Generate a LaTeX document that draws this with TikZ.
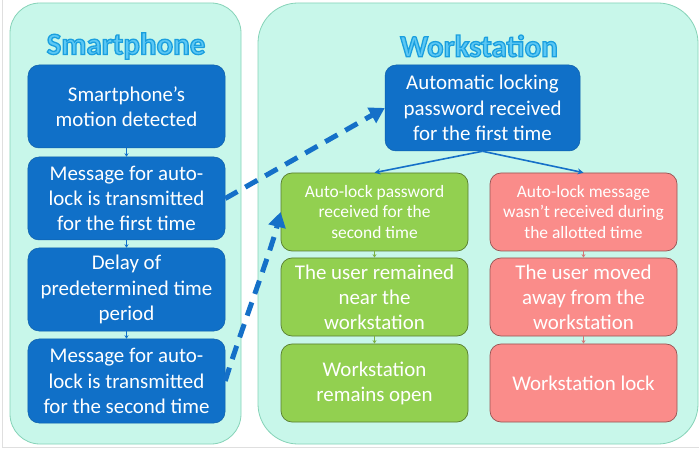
\documentclass[tikz,border=0pt]{standalone}
\usepackage{fontspec}
\setmainfont{Carlito}
\usetikzlibrary{arrows.meta}
\definecolor{panelfill}{HTML}{C8F7EA}
\definecolor{paneldraw}{HTML}{86D3B8}
\definecolor{boxblue}{HTML}{1070C8}
\definecolor{boxgreen}{HTML}{92D050}
\definecolor{boxred}{HTML}{FA8C8A}
\definecolor{titlefill}{HTML}{5CC8F4}
\definecolor{arrowblue}{HTML}{1570C8}
\tikzset{
  panel/.style={draw=paneldraw, fill=panelfill, line width=0.8bp},
  bluebox/.style={draw=boxblue!85!black, fill=boxblue, rounded corners=11bp, line width=0.5bp,
    minimum width=197bp, inner sep=0pt, text=white, align=center,
    font=\fontsize{21}{25.5}\selectfont},
  greenbox/.style={draw=boxgreen!60!black, fill=boxgreen, rounded corners=11bp, line width=0.7bp,
    minimum width=187bp, minimum height=78bp, inner sep=0pt, text=white, align=center},
  redbox/.style={greenbox, draw=boxred!60!black, fill=boxred},
  small/.style={font=\fontsize{17.5}{21}\selectfont},
  big/.style={font=\fontsize{21}{25}\selectfont},
  tiny arrow/.style={line width=0.8bp, -{Stealth[length=3.5bp,width=4bp]}},
  dasharrow/.style={draw=arrowblue, line width=5bp, dash pattern=on 14bp off 9bp,
    -{Triangle[length=15bp,width=17bp]}},
  forkarrow/.style={draw=arrowblue, line width=1.6bp, -{Stealth[length=6bp,width=6bp]}},
  titletext/.style={font=\fontsize{31}{31}\selectfont\bfseries, inner sep=0pt, text=titlefill},
}
% outlined text: fill + stroke via PDF text render mode 2
\newcommand{\outlinetext}[1]{%
  \special{pdf:literal direct 2 Tr 1.3 w 0.102 0.624 0.875 RG}#1\special{pdf:literal direct 0 Tr}}
\begin{document}
\begin{tikzpicture}[x=1bp, y=-1bp]
\useasboundingbox (0,0) rectangle (699,451);
\fill[white] (0,0) rectangle (699,451);
% faint frame lines
\draw[gray!25, line width=0.8bp] (2.5,0) -- (2.5,447.5) -- (699,447.5);
% panels
\draw[panel, rounded corners=30bp] (10,3) rectangle (241,444);
\draw[panel, rounded corners=40bp] (258,3) rectangle (698,444);
% titles
\node[titletext] (titleS) at (126,46) {\outlinetext{Smartphone}};
\node[titletext] (titleW) at (479,46) {\outlinetext{Workstation}};
% left column
\node[bluebox, minimum height=83bp] (b1) at (126.5,106.5) {Smartphone’s\\motion detected};
\node[bluebox, minimum height=83bp] (b2) at (126.5,198.5) {Message for auto-\\lock is transmitted\\for the first time};
\node[bluebox, minimum height=83bp] (b3) at (126.5,289.5) {Delay of\\predetermined time\\period};
\node[bluebox, minimum height=84bp] (b4) at (126.5,381) {Message for auto-\\lock is transmitted\\for the second time};
\draw[tiny arrow, boxblue] (b1) -- (b2);
\draw[tiny arrow, boxblue] (b2) -- (b3);
\draw[tiny arrow, boxblue] (b3) -- (b4);
% right panel
\node[bluebox, minimum width=195bp, minimum height=86bp] (w1) at (482.5,108) {Automatic locking\\password received\\for the first time};
\node[greenbox, small] (g1) at (374.5,212) {Auto-lock password\\received for the\\second time};
\node[greenbox, big] (g2) at (374.5,297) {The user remained\\near the\\workstation};
\node[greenbox, big] (g3) at (374.5,383) {Workstation\\remains open};
\node[redbox, small] (r1) at (583.5,212) {Auto-lock message\\wasn’t received during\\the allotted time};
\node[redbox, big] (r2) at (583.5,297) {The user moved\\away from the\\workstation};
\node[redbox, big] (r3) at (583.5,383) {Workstation lock};
\draw[tiny arrow, boxgreen!85!black] (g1) -- (g2);
\draw[tiny arrow, boxgreen!85!black] (g2) -- (g3);
\draw[tiny arrow, boxred!85!black] (r1) -- (r2);
\draw[tiny arrow, boxred!85!black] (r2) -- (r3);
\draw[forkarrow] (w1.south) -- (g1.north);
\draw[forkarrow] (w1.south) -- (r1.north);
% dashed arrows
\draw[dasharrow] (b2.east) -- (w1.west);
\draw[dasharrow] (b4.east) .. controls +(12,-40) and +(-10,40) .. (g1.west);
\end{tikzpicture}
\end{document}
